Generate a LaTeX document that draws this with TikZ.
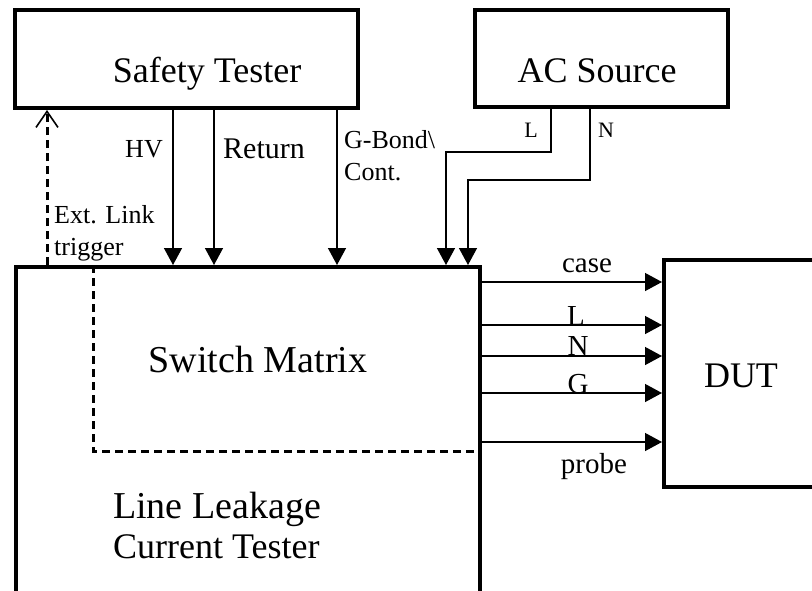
\documentclass[tikz,border=0pt]{standalone}
\usepackage{fontspec}
\setmainfont{Liberation Serif}
\usetikzlibrary{arrows.meta,positioning}

\begin{document}
\begin{tikzpicture}[
  x=1pt,y=-1pt,
  box/.style={rectangle,draw,line width=4pt,inner sep=0pt},
  boxlab/.style={inner sep=0pt,font=\fontsize{36}{40}\selectfont},
  wire/.style={-{Triangle[width=18pt,length=17pt]},line width=1.4pt},
  wirelab/.style={inner sep=0pt,font=\fontsize{29}{32}\selectfont},
  smalllab/.style={inner sep=0pt,font=\fontsize{26}{32}\selectfont,align=left},
  tinylab/.style={inner sep=0pt,font=\fontsize{22}{24}\selectfont},
  trig/.style={-{Straight Barb[width=22pt,length=16pt,line width=1.6pt]},line width=3pt,dash pattern=on 8pt off 5pt},
  zone/.style={line width=3pt,dash pattern=on 8pt off 5pt},
]
\useasboundingbox (0,0) rectangle (812,590);
\clip (0,0) rectangle (812,590);

% Boxes
\node[box,minimum width=343pt,minimum height=98pt] (safety) at (186.5,59) {};
\node[boxlab,anchor=base] (safetylab) at (207,82) {Safety Tester};

\node[box,minimum width=253pt,minimum height=97pt] (acsrc) at (601.5,58.5) {};
\node[boxlab,anchor=base] (acsrclab) at (597,82) {AC Source};

\node[box,minimum width=464pt,minimum height=353pt] (llct) at (248,443.5) {};
\node[boxlab,anchor=base] (smlab) at (258,372) {\fontsize{38}{40}\selectfont Switch Matrix};
\node[boxlab,anchor=base west,align=left] (llctlab) at (113,558) {\fontsize{38}{46}\selectfont Line Leakage\\Current Tester};

\node[box,minimum width=176pt,minimum height=227pt] (dut) at (752,373.5) {};
\node[boxlab,anchor=base] (dutlab) at (741,387) {DUT};

% Safety tester outputs
\draw[wire] (safety.south -| 173,0) -- (llct.north -| 173,0);
\draw[wire] (safety.south -| 214,0) -- (llct.north -| 214,0);
\draw[wire] (safety.south -| 337,0) -- (llct.north -| 337,0);
\node[smalllab,anchor=base east] (hvlab) at (163,157) {HV};
\node[wirelab,anchor=base west] (retlab) at (223,158) {\fontsize{30}{32}\selectfont Return};
\node[smalllab,anchor=base west] (gblab) at (344,180) {G-Bond\textbackslash\\Cont.};

% AC source outputs
\draw[wire] (acsrc.south -| 551,0) |- (446,152) -- (llct.north -| 446,0);
\draw[wire] (acsrc.south -| 590,0) |- (468,180) -- (llct.north -| 468,0);
\node[tinylab,anchor=base] (aclab) at (531,137) {L};
\node[tinylab,anchor=base] (acnlab) at (606,137) {N};

% Ext. link trigger
\draw[trig] (llct.north -| 47,0) -- (safety.south -| 47,0);
\node[smalllab,anchor=base west] (extlab) at (54,255) {\fontsize{26}{29}\selectfont Ext. Link\\trigger};

% Switch matrix zone
\coordinate (smcorner) at (93,451);
\draw[zone] (llct.north -| smcorner) -- (smcorner) -- (llct.east |- smcorner);

% Outputs to DUT
\draw[wire] (llct.east |- 0,282) -- (dut.west |- 0,282);
\draw[wire] (llct.east |- 0,325) -- (dut.west |- 0,325);
\draw[wire] (llct.east |- 0,356) -- (dut.west |- 0,356);
\draw[wire] (llct.east |- 0,393) -- (dut.west |- 0,393);
\draw[wire] (llct.east |- 0,442) -- (dut.west |- 0,442);
\node[wirelab,anchor=base] (caselab) at (587,272) {case};
\node[wirelab,anchor=base] (llab) at (576,325) {L};
\node[wirelab,anchor=base] (nlab) at (578,355) {N};
\node[wirelab,anchor=base] (glab) at (578,393) {G};
\node[wirelab,anchor=base] (probelab) at (594,473) {probe};
\end{tikzpicture}
\end{document}
